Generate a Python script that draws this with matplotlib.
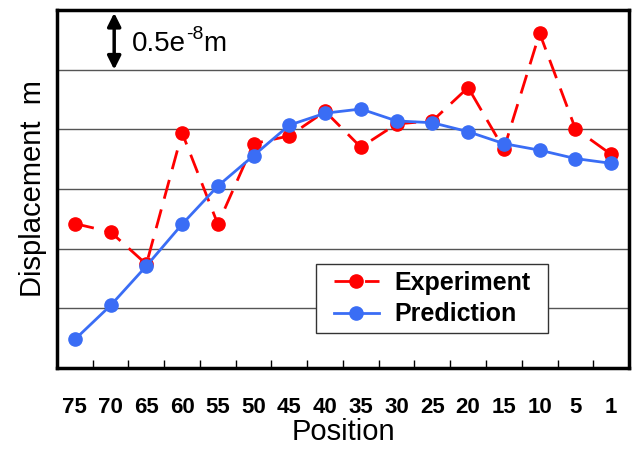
import numpy as np
import matplotlib.pyplot as plt
from matplotlib.ticker import FixedLocator
from matplotlib.patches import Rectangle

# posiciones (eje categórico)
posiciones = ["75", "70", "65", "60", "55", "50", "45", "40", "35", "30",
              "25", "20", "15", "10", "5", "1"]

# desplazamiento en unidades de 0.5e-8 m
experimento = [2.42, 2.28, 1.74, 3.94, 2.41, 3.76, 3.89, 4.30, 3.70, 4.09,
               4.14, 4.70, 3.67, 5.61, 4.01, 3.58]
prediccion = [0.48, 1.05, 1.71, 2.41, 3.05, 3.56, 4.07, 4.27, 4.34, 4.14,
              4.11, 3.96, 3.76, 3.65, 3.51, 3.43]

plt.rcParams['font.family'] = ['Liberation Sans', 'DejaVu Sans']

fig = plt.figure(figsize=(6.36, 4.5), dpi=100)
ax = fig.add_axes([0.0896, 0.182, 0.8994, 0.796])

x = np.arange(len(posiciones))

ax.plot(x, experimento, color='#ff0000', lw=2, ls=(0, (7, 4)), marker='o',
        markersize=9.5, label='Experiment', zorder=3)
ax.plot(x, prediccion, color='#3a6df5', lw=2, marker='o',
        markersize=9.5, label='Prediction', zorder=4)

ax.set_xlim(-0.5, len(posiciones) - 0.5)
ax.set_ylim(0, 6)

ax.set_xticks(x)
ax.set_xticklabels(posiciones, fontweight='bold', fontsize=16)
ax.xaxis.set_minor_locator(FixedLocator(np.arange(0.5, len(posiciones) - 1, 1)))
ax.tick_params(axis='x', which='major', length=0, pad=21)
ax.tick_params(axis='x', which='minor', direction='in', length=6, width=1)
ax.set_yticks(np.arange(0, 7, 1))
ax.tick_params(axis='y', length=0, labelleft=False)

ax.grid(axis='y', color='#555555', lw=1)
ax.set_axisbelow(True)
for s in ax.spines.values():
    s.set_linewidth(2.5)
    s.set_color('black')

ax.set_xlabel('Position', fontsize=21, labelpad=0)
ax.set_ylabel('Displacement  m', fontsize=21, labelpad=7)

# flecha de escala
ax.annotate('', xy=(1.1, 5.95), xytext=(1.1, 5.0),
            arrowprops=dict(arrowstyle='<|-|>', color='black', lw=2.5,
                            mutation_scale=20, shrinkA=0, shrinkB=0))
t1 = ax.text(1.6, 5.43, '0.5e', fontsize=20, va='center', ha='left')
t2 = ax.annotate('-8', xy=(1, 0.55), xycoords=t1, fontsize=14,
                 va='bottom', ha='left')
ax.annotate('m', xy=(1, 0), xycoords=(t2, t1), fontsize=20,
            va='bottom', ha='left')

# caja de la leyenda
caja = (0.453, 0.098, 0.405, 0.192)
ax.add_patch(Rectangle(caja[:2], caja[2], caja[3], transform=ax.transAxes,
                       facecolor='white', edgecolor='#333333', lw=1, zorder=5))
leg = ax.legend(loc='center', bbox_to_anchor=caja, borderaxespad=0,
                frameon=False, prop={'weight': 'bold', 'size': 18},
                handlelength=1.8, borderpad=0, labelspacing=0.3,
                handletextpad=0.6)
leg.set_zorder(6)

fig.savefig('out.png', dpi=100)
